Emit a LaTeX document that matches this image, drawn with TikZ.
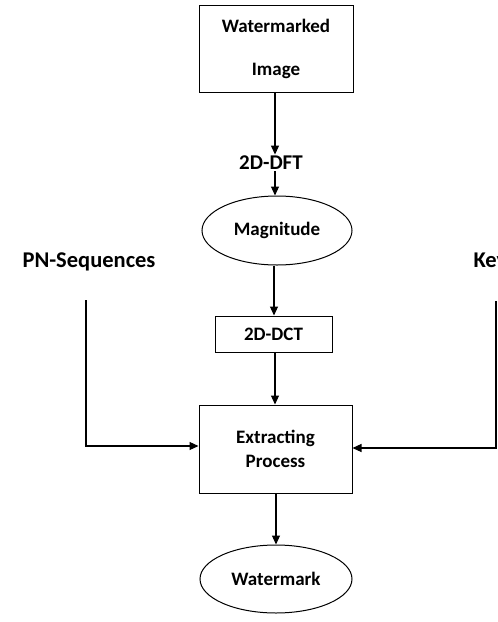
\documentclass[tikz,border=0pt]{standalone}
\usepackage{fontspec}
\setmainfont{Carlito}
\usetikzlibrary{shapes.geometric,arrows.meta}
\tikzset{sc/.style={x=1pt,y=-1pt,line width=1.1pt,font=\bfseries\fontsize{19}{24}\selectfont},
  block/.style={draw,line width=1pt,align=center,inner sep=0pt},
  oval/.style={draw,ellipse,line width=1pt,inner sep=0pt},
  lbl/.style={font=\bfseries\fontsize{21}{24}\selectfont,inner sep=1pt},
  arr/.style={-{Triangle[width=8pt,length=9pt]}}}

\begin{document}
\begin{tikzpicture}[sc]
  \useasboundingbox (0,0) rectangle (498,622);
  \node[block,minimum width=154pt,minimum height=87pt] (img) at (276,48.5) {Watermarked\\[19pt]Image};
  \node[lbl] (dft) at (271,163) {2D-DFT};
  \node[oval,minimum width=150pt,minimum height=69pt] (mag) at (277,230.5) {Magnitude};
  \node[block,minimum width=117pt,minimum height=36pt] (dct) at (273.5,334) {2D-DCT};
  \node[block,minimum width=153pt,minimum height=88pt] (ext) at (275.5,449) {Extracting\\Process};
  \node[oval,minimum width=152pt,minimum height=68pt] (wm) at (276,579) {Watermark};
  \node[lbl,font=\bfseries\fontsize{22.5}{24}\selectfont] (pn) at (89,262) {PN-Sequences};
  \node[lbl,anchor=west,font=\bfseries\fontsize{22.5}{24}\selectfont] (key) at (472,262) {Key};
  \coordinate (pnend) at (86,300);
  \coordinate (keyend) at (496,301);
  \draw[arr] (img.south -| 275,0) -- (dft.north -| 275,0);
  \draw[arr] (dft.south -| 275,0) -- (mag.north -| 275,0);
  \draw[arr] (mag.south -| 274,0) -- (dct.north -| 274,0);
  \draw[arr] (dct.south -| 275,0) -- (ext.north -| 275,0);
  \draw[arr] (ext.south -| 276,0) -- (wm.north -| 276,0);
  \draw[arr] (pnend) |- ([yshift=3pt]ext.west);
  \draw[arr] (keyend) |- ([yshift=1pt]ext.east);
\end{tikzpicture}
\end{document}
